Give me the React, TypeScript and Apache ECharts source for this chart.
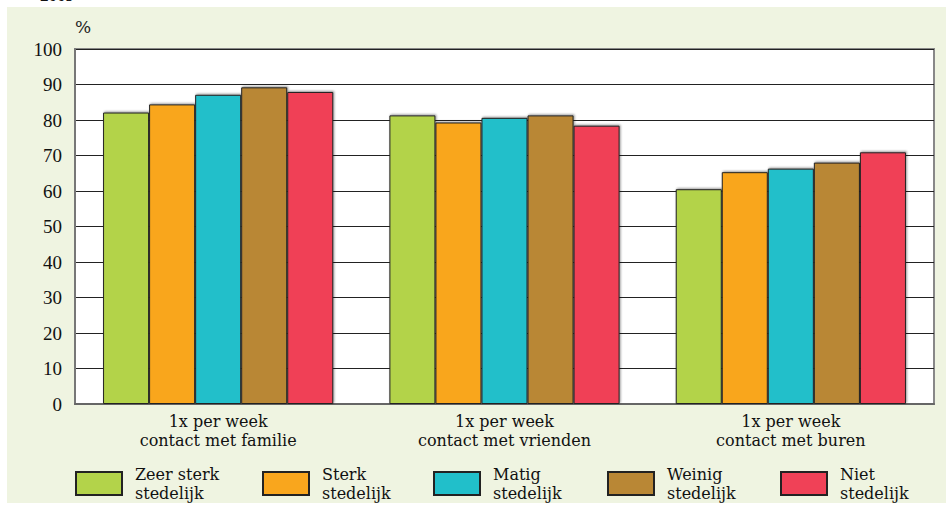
import React, { useEffect, useRef } from "react";
import * as echarts from "echarts";

const categories = ["1x per week\ncontact met familie", "1x per week\ncontact met vrienden", "1x per week\ncontact met buren"];
const seriesNames = ["Zeer sterk\nstedelijk", "Sterk\nstedelijk", "Matig\nstedelijk", "Weinig\nstedelijk", "Niet\nstedelijk"];
const zeerSterk = [82.1, 81.3, 60.5];
const sterk = [84.4, 79.3, 65.3];
const matig = [87.1, 80.6, 66.3];
const weinig = [89.2, 81.3, 68.0];
const niet = [87.9, 78.4, 70.9];
const colors = ["#b3d34a", "#f9a61d", "#21bfca", "#b98735", "#f04157"];
const legendLeft = [75, 262, 433, 607, 780];

const FONT = "'DejaVu Serif', serif";
const NUMFONT = "'Liberation Serif', serif";

export default function App() {
  const ref = useRef<HTMLDivElement>(null);
  useEffect(() => {
    document.body.style.margin = "0";
    const chart = echarts.init(ref.current!, null, { renderer: "svg" });
    const values = [zeerSterk, sterk, matig, weinig, niet];
    chart.setOption({
      animation: false,
      textStyle: { fontFamily: FONT },
      graphic: [
        { type: "rect", z: -10, silent: true, shape: { x: 7, y: 7, width: 939, height: 496 }, style: { fill: "#eff4e1" } },
        { type: "text", x: 40, y: 4, style: { text: "2009", fontFamily: NUMFONT, fontWeight: "bold", fontSize: 17, fill: "#111", verticalAlign: "bottom" } },
      ],
      grid: { left: 75, right: 12, top: 49, bottom: 101, show: true, backgroundColor: "#fff", borderColor: "#888", borderWidth: 2 },
      legend: seriesNames.map((n, i) => ({
        data: [n],
        left: legendLeft[i],
        top: 460.5,
        padding: 0,
        icon: "rect",
        itemWidth: 46,
        itemHeight: 23,
        itemGap: 0,
        textStyle: { fontFamily: FONT, fontSize: 16, color: "#111", lineHeight: 19, padding: [0, 0, 8, 8] },
      })),
      xAxis: {
        type: "category",
        data: categories,
        axisLine: { lineStyle: { color: "#666", width: 2 } },
        axisTick: { show: false },
        axisLabel: { fontFamily: FONT, fontSize: 16, color: "#111", lineHeight: 19, margin: 8 },
      },
      yAxis: {
        type: "value",
        min: 0,
        max: 100,
        interval: 10,
        name: "%",
        nameLocation: "end",
        nameGap: 14,
        nameTextStyle: { fontFamily: FONT, fontSize: 17, color: "#222", align: "left", padding: [0, 0, 0, 0] },
        axisLine: { show: true, lineStyle: { color: "#777", width: 2 } },
        axisTick: { show: false },
        splitLine: { lineStyle: { color: "#222", width: 1 } },
        axisLabel: { fontFamily: NUMFONT, fontSize: 19, color: "#111", margin: 13 },
      },
      series: seriesNames.map((n, i) => ({
        name: n,
        type: "bar",
        data: values[i],
        barGap: "0%",
        barCategoryGap: "19.6%",
        itemStyle: {
          color: colors[i],
          borderColor: "#222",
          borderWidth: 1,
          shadowColor: "rgba(0,0,0,0.4)",
          shadowBlur: 2,
          shadowOffsetX: 1,
          shadowOffsetY: -1,
        },
      })),
    });
    return () => chart.dispose();
  }, []);
  return <div ref={ref} style={{ width: 946, height: 505 }} />;
}
